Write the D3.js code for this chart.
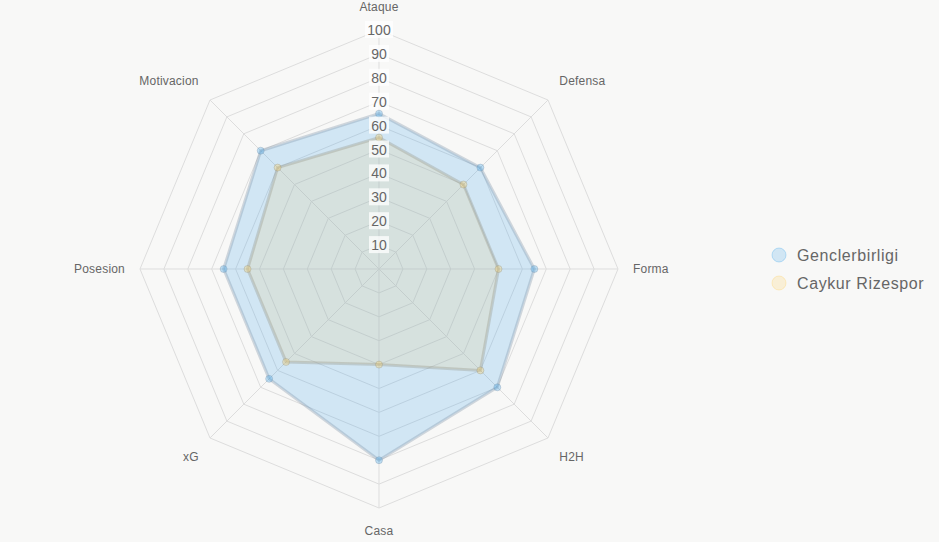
<!DOCTYPE html>
<html>
<head>
<meta charset="utf-8">
<script src="https://cdn.jsdelivr.net/npm/d3@7"></script>
<style>
  html, body { margin: 0; padding: 0; background: #f8f8f7; }
  svg { display: block; font-family: "Liberation Sans", Arial, sans-serif; }
</style>
</head>
<body>
<div id="chart"></div>
<script>
const axesLabels = ["Ataque", "Defensa", "Forma", "H2H", "Casa", "xG", "Posesion", "Motivacion"];
const teams = ["Genclerbirligi", "Caykur Rizespor"];
const genclerValues = [65, 60, 65, 70, 80, 65, 65, 70];
const rizeValues = [55, 50, 50, 60, 40, 55, 55, 60];
const tickValues = [10, 20, 30, 40, 50, 60, 70, 80, 90, 100];

const width = 939, height = 542;
const cx = 379, cy = 269, R = 239;

const svg = d3.select("#chart").append("svg")
    .attr("width", width)
    .attr("height", height);

svg.append("rect").attr("width", width).attr("height", height).attr("fill", "#f8f8f7");

const r = d3.scaleLinear().domain([0, 100]).range([0, R]);
const angle = i => i * 2 * Math.PI / axesLabels.length;
const pt = (i, v) => [cx + r(v) * Math.sin(angle(i)), cy - r(v) * Math.cos(angle(i))];

const g = svg.append("g");

// grid rings
tickValues.forEach(t => {
  g.append("polygon")
    .attr("points", axesLabels.map((d, i) => pt(i, t).join(",")).join(" "))
    .attr("fill", "none")
    .attr("stroke", "#dddddd")
    .attr("stroke-width", 1);
});

// spokes
axesLabels.forEach((d, i) => {
  const [x, y] = pt(i, 100);
  g.append("line")
    .attr("x1", cx).attr("y1", cy).attr("x2", x).attr("y2", y)
    .attr("stroke", "#dddddd");
});

// datasets
const series = [
  {name: teams[0], values: genclerValues, fill: "rgba(54,162,235,0.2)", legendFill: "rgba(54,162,235,0.2)", stroke: "rgba(130,150,170,0.35)", point: "rgba(54,162,235,0.3)"},
  {name: teams[1], values: rizeValues, fill: "rgba(240,200,110,0.16)", legendFill: "rgba(255,206,86,0.2)", stroke: "rgba(150,150,135,0.35)", point: "rgba(255,206,86,0.3)"}
];

const line = d3.lineRadial()
    .angle((d, i) => angle(i))
    .radius(d => r(d))
    .curve(d3.curveLinearClosed);

series.forEach(s => {
  const sg = g.append("g").attr("transform", `translate(${cx},${cy})`);
  sg.append("path")
    .datum(s.values)
    .attr("d", line)
    .attr("fill", s.fill)
    .attr("stroke", s.stroke)
    .attr("stroke-width", 3);
});

series.forEach(s => {
  g.selectAll(null)
    .data(s.values)
    .join("circle")
    .attr("cx", (d, i) => pt(i, d)[0])
    .attr("cy", (d, i) => pt(i, d)[1])
    .attr("r", 3.5)
    .attr("fill", s.point)
    .attr("stroke", s.stroke)
    .attr("stroke-width", 1);
});

// tick labels with backdrop
tickValues.forEach(t => {
  const y = cy - r(t);
  const txt = String(t);
  const w = txt.length * 8 + 4;
  g.append("rect")
    .attr("x", cx - w / 2).attr("y", y - 9)
    .attr("width", w).attr("height", 17)
    .attr("fill", "rgba(255,255,255,0.75)");
  g.append("text")
    .attr("x", cx).attr("y", y)
    .attr("text-anchor", "middle")
    .attr("dominant-baseline", "central")
    .attr("font-size", 14)
    .attr("fill", "#666")
    .text(txt);
});

// point labels
const labelPos = axesLabels.map((d, i) => {
  const a = angle(i);
  const sx = Math.sin(a), sy = -Math.cos(a);
  let x, y, anchor;
  if (Math.abs(sx) < 0.01) {
    x = cx; y = cy + sy * (R + 23); anchor = "middle";
  } else if (Math.abs(sy) < 0.01) {
    x = cx + sx * (R + 15); y = cy; anchor = sx > 0 ? "start" : "end";
  } else {
    x = cx + sx * 255; y = cy + sy * 255 + (sy < 0 ? -8 : 8);
    anchor = sx > 0 ? "start" : "end";
  }
  return {d, x, y, anchor};
});

g.selectAll(".plabel")
  .data(labelPos)
  .join("text")
  .attr("class", "plabel")
  .attr("x", d => d.x)
  .attr("y", d => d.y)
  .attr("text-anchor", d => d.anchor)
  .attr("dominant-baseline", "central")
  .attr("font-size", 12)
  .attr("letter-spacing", 0.2)
  .attr("fill", "#666")
  .text(d => d.d);

// legend
const legend = svg.append("g").attr("transform", "translate(779,255)");
series.forEach((s, i) => {
  legend.append("circle")
    .attr("cx", 0).attr("cy", i * 28)
    .attr("r", 7)
    .attr("fill", s.legendFill)
    .attr("stroke", s.point)
    .attr("stroke-width", 1);
  legend.append("text")
    .attr("x", 18).attr("y", i * 28)
    .attr("dominant-baseline", "central")
    .attr("font-size", 16)
    .attr("letter-spacing", 0.6)
    .attr("fill", "#666")
    .text(s.name);
});
</script>
</body>
</html>
